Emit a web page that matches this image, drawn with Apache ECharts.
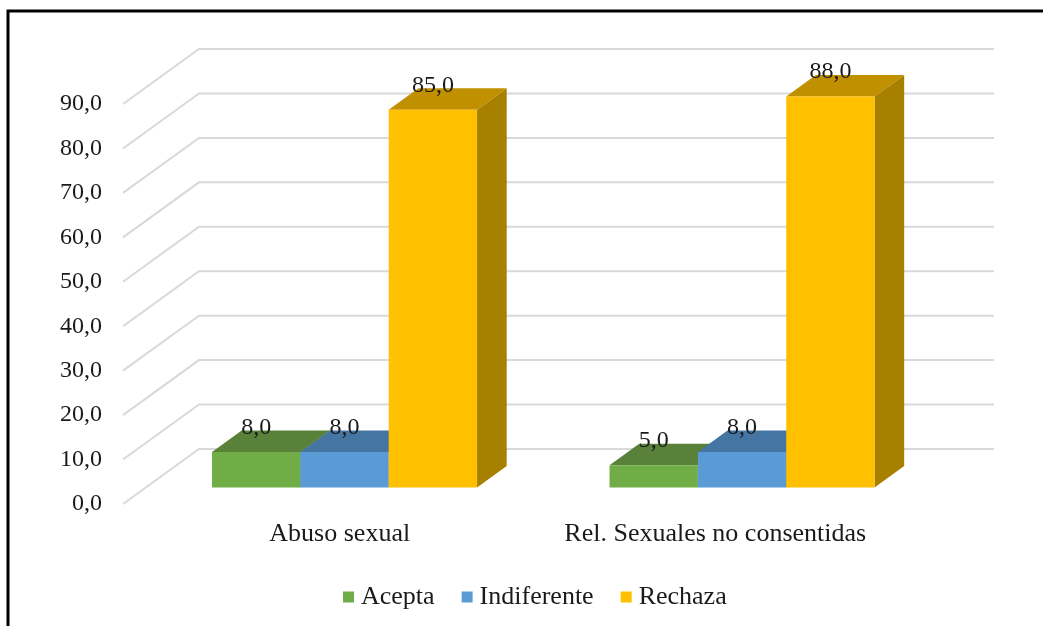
<!DOCTYPE html>
<html>
<head>
<meta charset="utf-8">
<script src="https://cdn.jsdelivr.net/npm/echarts@6/dist/echarts.min.js"></script>
<style>
  html, body { margin: 0; padding: 0; background: #fff; }
  #chart { width: 1043px; height: 626px; }
</style>
</head>
<body>
<div id="chart"></div>
<script>
// Data
const categories = ['Abuso sexual', 'Rel. Sexuales no consentidas'];
const seriesNames = ['Acepta', 'Indiferente', 'Rechaza'];
const acepta = [8.0, 5.0];
const indiferente = [8.0, 8.0];
const rechaza = [85.0, 88.0];
const yTicks = [0, 10, 20, 30, 40, 50, 60, 70, 80, 90];

// Face colours: front, top, side
const palette = [
  { front: '#70AD47', top: '#59813A', side: '#4E7230' },
  { front: '#5B9BD5', top: '#4575A2', side: '#3C6791' },
  { front: '#FFC000', top: '#C09000', side: '#A88000' }
];

// 3D projection: offset of the back wall from the front plane (px),
// and the depth slice occupied by the bars (fraction of full depth)
const WALL = [76, -55];
const BAR_FRONT = 0.30;
const BAR_BACK = 0.69;
const GAP_WIDTH = 1.5; // gap between clusters, as a multiple of bar width

const FONT = '"Liberation Serif", "Times New Roman", serif';
const TEXT_COLOR = '#1a1a1a';

const fmt = v => v.toFixed(1).replace('.', ',');

const seriesValues = [acepta, indiferente, rechaza];
const nSeries = seriesValues.length;

function barRenderer(seriesIdx) {
  return function (params, api) {
    const cat = api.value(0);
    const val = api.value(1);
    const base = api.coord([cat, 0]);
    const topPt = api.coord([cat, val]);
    const band = api.size([1, 0])[0];
    const bw = band / (nSeries + GAP_WIDTH);
    const fx = WALL[0] * BAR_FRONT, fy = WALL[1] * BAR_FRONT;
    const dx = WALL[0] * (BAR_BACK - BAR_FRONT), dy = WALL[1] * (BAR_BACK - BAR_FRONT);
    const x1 = base[0] + (seriesIdx - nSeries / 2) * bw + fx;
    const x2 = x1 + bw;
    const y0 = base[1] + fy;
    const yt = topPt[1] + fy;
    const c = palette[seriesIdx];
    return {
      type: 'group',
      children: [
        {
          type: 'polygon',
          shape: { points: [[x2, y0], [x2 + dx, y0 + dy], [x2 + dx, yt + dy], [x2, yt]] },
          style: { fill: c.side }
        },
        {
          type: 'polygon',
          shape: { points: [[x1, yt], [x2, yt], [x2 + dx, yt + dy], [x1 + dx, yt + dy]] },
          style: { fill: c.top }
        },
        {
          type: 'rect',
          shape: { x: x1, y: yt, width: bw, height: y0 - yt },
          style: { fill: c.front }
        },
        {
          type: 'text',
          style: {
            x: x1 + bw / 2,
            y: yt + dy - 3,
            text: fmt(val),
            font: '24px ' + FONT,
            fill: TEXT_COLOR,
            align: 'center',
            verticalAlign: 'middle'
          },
          z2: 10
        }
      ]
    };
  };
}

function gridRenderer(params, api) {
  const cs = params.coordSys;
  const y = api.coord([0, api.value(1)])[1];
  const xl = cs.x;
  const xr = cs.x + cs.width;
  return {
    type: 'polyline',
    shape: { points: [[xl, y], [xl + WALL[0], y + WALL[1]], [xr + WALL[0], y + WALL[1]]] },
    style: { stroke: '#d9d9d9', lineWidth: 2, fill: null },
    silent: true
  };
}

const series = [
  {
    type: 'custom',
    name: 'grid',
    renderItem: gridRenderer,
    data: yTicks.map(t => [0, t]),
    encode: { x: 0, y: 1 },
    silent: true,
    z: 1
  }
];
seriesValues.forEach((vals, i) => {
  series.push({
    type: 'custom',
    name: seriesNames[i],
    renderItem: barRenderer(i),
    data: vals.map((v, j) => [j, v]),
    encode: { x: 0, y: 1 },
    itemStyle: { color: palette[i].front },
    z: 2 + i
  });
});

const chart = echarts.init(document.getElementById('chart'), null, { renderer: 'canvas' });
chart.setOption({
  animation: false,
  backgroundColor: '#ffffff',
  grid: { left: 123, right: 125, top: 104, bottom: 122, containLabel: false },
  xAxis: {
    type: 'category',
    data: [
      { value: categories[0], textStyle: { padding: [0, 0, 0, 36] } },
      { value: categories[1], textStyle: { padding: [0, 8, 0, 0] } }
    ],
    boundaryGap: true,
    axisLine: { show: false },
    axisTick: { show: false },
    splitLine: { show: false },
    axisLabel: {
      margin: 17,
      fontFamily: FONT,
      fontSize: 26,
      color: TEXT_COLOR
    }
  },
  yAxis: {
    type: 'value',
    min: 0,
    max: 90,
    interval: 10,
    axisLine: { show: false },
    axisTick: { show: false },
    splitLine: { show: false },
    axisLabel: {
      margin: 21,
      fontFamily: FONT,
      fontSize: 24,
      color: TEXT_COLOR,
      formatter: v => fmt(v)
    }
  },
  legend: {
    data: seriesNames,
    left: 338,
    top: 579,
    icon: 'rect',
    itemWidth: 11,
    itemHeight: 11,
    itemGap: 27,
    textStyle: { fontFamily: FONT, fontSize: 26, color: TEXT_COLOR, padding: [0, 0, 0, 2] }
  },
  graphic: [
    {
      type: 'polyline',
      shape: { points: [[8, 626], [8, 11], [1043, 11]] },
      style: { stroke: '#000', lineWidth: 3, fill: null },
      silent: true
    }
  ],
  series: series
});
</script>
</body>
</html>
